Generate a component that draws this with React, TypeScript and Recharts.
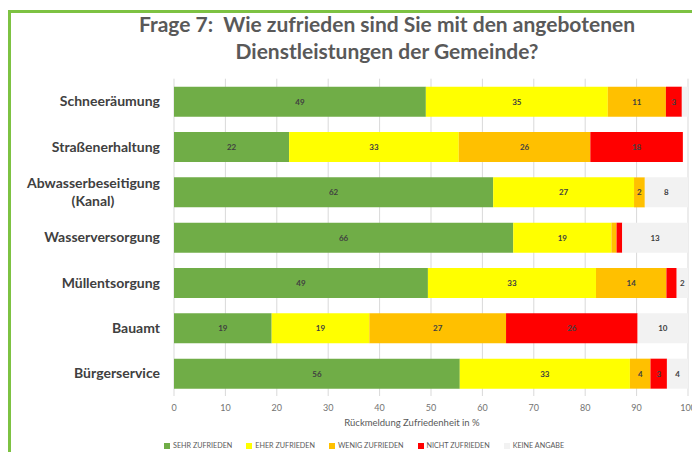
import React from 'react';
import { BarChart, Bar, XAxis, YAxis, CartesianGrid, LabelList } from 'recharts';

const categories = [
  'Schneeräumung',
  'Straßenerhaltung',
  'Abwasserbeseitigung (Kanal)',
  'Wasserversorgung',
  'Müllentsorgung',
  'Bauamt',
  'Bürgerservice',
];

const sehrZufrieden = [49.0, 22.4, 62.1, 66.0, 49.4, 19.0, 55.6];
const eherZufrieden = [35.4, 33.0, 27.4, 19.1, 32.7, 19.0, 33.1];
const wenigZufrieden = [11.3, 25.6, 2.1, 1.0, 13.7, 26.6, 4.0];
const nichtZufrieden = [3.1, 18.0, 0, 1.1, 2.0, 25.6, 3.2];
const keineAngabe = [1.2, 0, 8.4, 12.8, 2.2, 9.8, 4.1];

const xTicks = [0, 10, 20, 30, 40, 50, 60, 70, 80, 90, 100];

// labels that were left out in the original (segments too thin)
const hiddenLabels = [
  'Schneeräumung|keine',
  'Wasserversorgung|wenig',
  'Wasserversorgung|nicht',
  'Müllentsorgung|nicht',
];

const series = [
  { key: 'sehr', name: 'SEHR ZUFRIEDEN', values: sehrZufrieden, color: '#70AD47' },
  { key: 'eher', name: 'EHER ZUFRIEDEN', values: eherZufrieden, color: '#FFFF00' },
  { key: 'wenig', name: 'WENIG ZUFRIEDEN', values: wenigZufrieden, color: '#FFC000' },
  { key: 'nicht', name: 'NICHT ZUFRIEDEN', values: nichtZufrieden, color: '#FF0000' },
  { key: 'keine', name: 'KEINE ANGABE', values: keineAngabe, color: '#F2F2F2' },
];

const chartData = categories.map((name, i) => {
  const row: Record<string, string | number> = { name };
  series.forEach(s => {
    const v = s.values[i];
    row[s.key] = v;
    row[s.key + 'Label'] = !v || hiddenLabels.includes(name + '|' + s.key) ? '' : String(Math.round(v));
  });
  return row;
});

const FONT = 'Lato, "Open Sans", sans-serif';

const CategoryTick = (props: any) => {
  const { x, y, payload } = props;
  const text: string = payload.value;
  const parts = text.split(' (');
  if (parts.length > 1) {
    return (
      <g>
        <text x={x} y={y - 9} dy="0.35em" textAnchor="end" fontSize={14} fontWeight={700} fill="#404040" fontFamily={FONT}>
          {parts[0]}
        </text>
        <text x={x - 67} y={y + 9} dy="0.35em" textAnchor="middle" fontSize={14} fontWeight={700} fill="#404040" fontFamily={FONT}>
          {'(' + parts[1]}
        </text>
      </g>
    );
  }
  return (
    <text x={x} y={y} dy="0.35em" textAnchor="end" fontSize={14} fontWeight={700} fill="#404040" fontFamily={FONT}>
      {text}
    </text>
  );
};

const App: React.FC = () => {
  return (
    <div style={{ position: 'relative', width: 692, height: 452, overflow: 'hidden', background: '#fff', fontFamily: FONT }}>
      <style>{'body { margin: 0; }'}</style>
      {/* green frame */}
      <div style={{ position: 'absolute', left: 8, top: 10, width: 3, height: 442, background: '#7DC242' }} />
      <div style={{ position: 'absolute', left: 8, top: 10, width: 684, height: 3, background: '#7DC242' }} />

      <div
        style={{
          position: 'absolute',
          left: 0,
          top: 10,
          width: 774,
          textAlign: 'center',
          fontSize: 21,
          fontWeight: 700,
          color: '#595959',
          lineHeight: '27px',
          whiteSpace: 'pre',
        }}
      >
        {'Frage 7:  Wie zufrieden sind Sie mit den angebotenen\nDienstleistungen der Gemeinde?'}
      </div>

      <div style={{ position: 'absolute', left: 0, top: 0 }}>
        <BarChart
          width={700}
          height={452}
          data={chartData}
          layout="vertical"
          margin={{ top: 78.7, right: 12, bottom: 26, left: 0 }}
          barSize={30}
        >
          <CartesianGrid horizontal={false} stroke="#D9D9D9" />
          <XAxis
            type="number"
            domain={[0, 100]}
            ticks={xTicks}
            interval={0}
            axisLine={false}
            tickLine={false}
            tickSize={0}
            tickMargin={9}
            height={30}
            tick={{ fontSize: 9, fill: '#737373', fontFamily: FONT }}
          />
          <YAxis
            type="category"
            dataKey="name"
            width={174}
            axisLine={false}
            tickLine={false}
            tickSize={0}
            tickMargin={14}
            interval={0}
            tick={<CategoryTick />}
          />
          {series.map(s => (
            <Bar key={s.key} dataKey={s.key} name={s.name} stackId="a" fill={s.color} isAnimationActive={false}>
              <LabelList
                dataKey={s.key + 'Label'}
                position="center"
                fontSize={8}
                fontWeight={700}
                fill="#404040"
                fontFamily={FONT}
              />
            </Bar>
          ))}
        </BarChart>
      </div>

      <div
        style={{
          position: 'absolute',
          left: 312,
          top: 417,
          width: 200,
          textAlign: 'center',
          fontSize: 9.5,
          lineHeight: '12px',
          color: '#595959',
        }}
      >
        Rückmeldung Zufriedenheit in %
      </div>

      <div
        style={{
          position: 'absolute',
          left: 164,
          top: 441,
          display: 'flex',
          gap: 14,
          fontSize: 7.2,
          lineHeight: '10px',
          color: '#595959',
          whiteSpace: 'nowrap',
        }}
      >
        {series.map(s => (
          <div key={s.key} style={{ display: 'flex', alignItems: 'center' }}>
            <span style={{ display: 'inline-block', width: 6, height: 6, background: s.color, marginRight: 3 }} />
            <span>{s.name}</span>
          </div>
        ))}
      </div>
    </div>
  );
};

export default App;
